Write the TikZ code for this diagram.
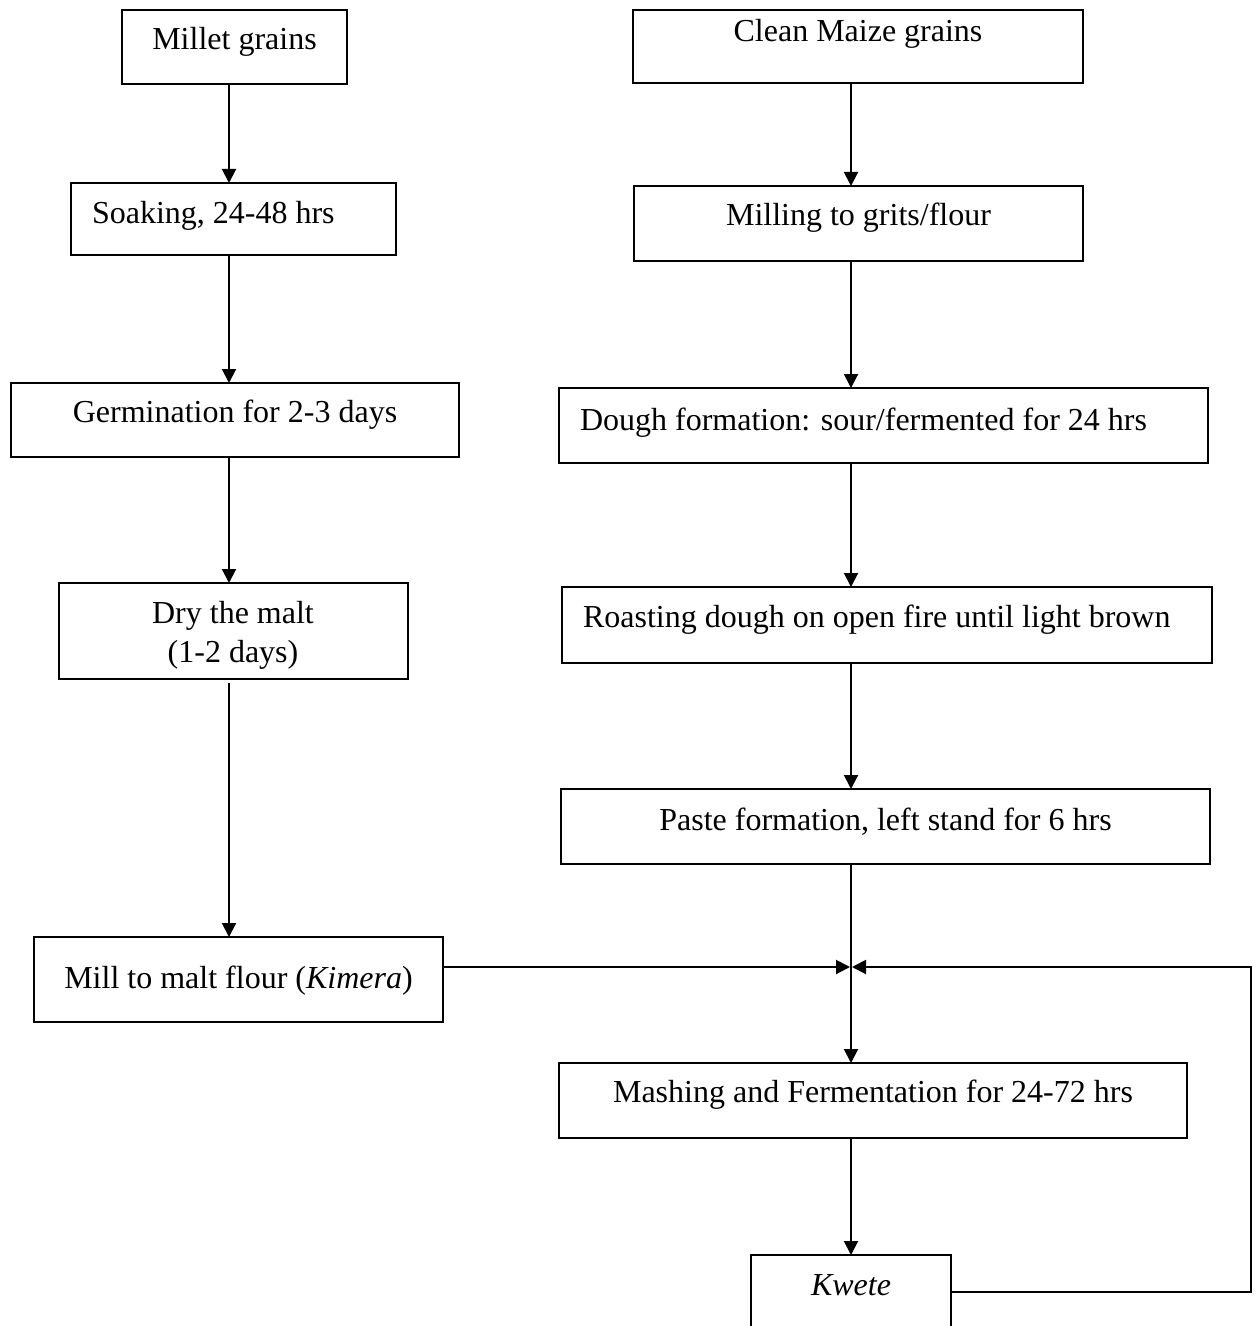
\documentclass[tikz,border=0pt]{standalone}
\usepackage{fontspec}
\setmainfont{Liberation Serif}
\usetikzlibrary{arrows.meta}
\tikzset{
  box/.style={draw, line width=1pt, rectangle, inner sep=0pt, outer sep=0pt, anchor=north west},
  txt/.style={inner sep=0pt, outer sep=0pt, font=\fontsize{16pt}{18.4pt}\selectfont},
  arr/.style={line width=1pt, -{Triangle[length=7pt,width=7pt]}},
  link/.style={line width=1pt},
}
\newcommand{\mkbox}[5]{\node[box, minimum width={(#4-#2)*0.5pt}, minimum height={(#5-#3)*0.5pt}] (#1) at (#2,#3) {};}
\begin{document}
\begin{tikzpicture}[x=0.5pt,y=-0.5pt]
\useasboundingbox (0,0) rectangle (1258,1326);
\fill[white] (0,0) rectangle (1258,1326);
\clip (0,0) rectangle (1258,1326);
\coordinate (lc) at (229,0);
\coordinate (rc) at (851,0);
\coordinate (J) at (851,967);
\coordinate (kl) at (1251,1292);
% left column
\mkbox{millet}{122}{10}{347}{84}
\node[txt, anchor=base] (millett) at (234.5,50) {Millet grains};
\mkbox{soak}{71}{183}{396}{255}
\node[txt, anchor=base west] (soakt) at (92,224) {Soaking, 24-48 hrs};
\mkbox{germ}{11}{383}{459}{457}
\node[txt, anchor=base] (germt) at (235,422) {Germination for 2-3 days};
\mkbox{dry}{59}{583}{408}{679}
\node[txt, anchor=base] (dryt1) at (233,623) {Dry the malt};
\node[txt, anchor=base] (dryt2) at (233,662) {(1-2 days)};
\mkbox{malt}{34}{937}{443}{1022}
\node[txt, anchor=base] (maltt) at (238.5,988) {Mill to malt flour (\textit{Kimera})};
% right column
\mkbox{maize}{633}{10}{1083}{83}
\node[txt, anchor=base] (maizet) at (858,42) {Clean Maize grains};
\mkbox{mill}{634}{186}{1083}{261}
\node[txt, anchor=base] (millt) at (858.5,226) {Milling to grits/flour};
\mkbox{dough}{559}{388}{1208}{463}
\node[txt, anchor=base west] (dought) at (580,430) {Dough formation: sour/fermented for 24 hrs};
\mkbox{roast}{562}{587}{1212}{663}
\node[txt, anchor=base west] (roastt) at (583,627) {Roasting dough on open fire until light brown};
\mkbox{paste}{561}{789}{1210}{864}
\node[txt, anchor=base] (pastet) at (885.5,830) {Paste formation, left stand for 6 hrs};
\mkbox{mash}{559}{1063}{1187}{1138}
\node[txt, anchor=base] (masht) at (873,1102) {Mashing and Fermentation for 24-72 hrs};
\mkbox{kwete}{751}{1255}{951}{1345}
\node[txt, anchor=base] (kwetet) at (851,1295) {\textit{Kwete}};
% connectors left
\draw[arr] (millet.south -| lc) -- (soak.north -| lc);
\draw[arr] (soak.south -| lc) -- (germ.north -| lc);
\draw[arr] (germ.south -| lc) -- (dry.north -| lc);
\draw[arr] ([yshift=-2pt]dry.south -| lc) -- (malt.north -| lc);
% connectors right
\draw[arr] (maize.south -| rc) -- (mill.north -| rc);
\draw[arr] (mill.south -| rc) -- (dough.north -| rc);
\draw[arr] (dough.south -| rc) -- (roast.north -| rc);
\draw[arr] (roast.south -| rc) -- (paste.north -| rc);
\draw[arr] (paste.south -| rc) -- (mash.north -| rc);
\draw[arr] (mash.south -| rc) -- (kwete.north -| rc);
% junction
\draw[arr] (malt.east |- J) -- ([xshift=-0.5pt]J);
\draw[arr] (kwete.east |- kl) -- (kl) |- ([xshift=0.5pt]J);
\end{tikzpicture}
\end{document}
